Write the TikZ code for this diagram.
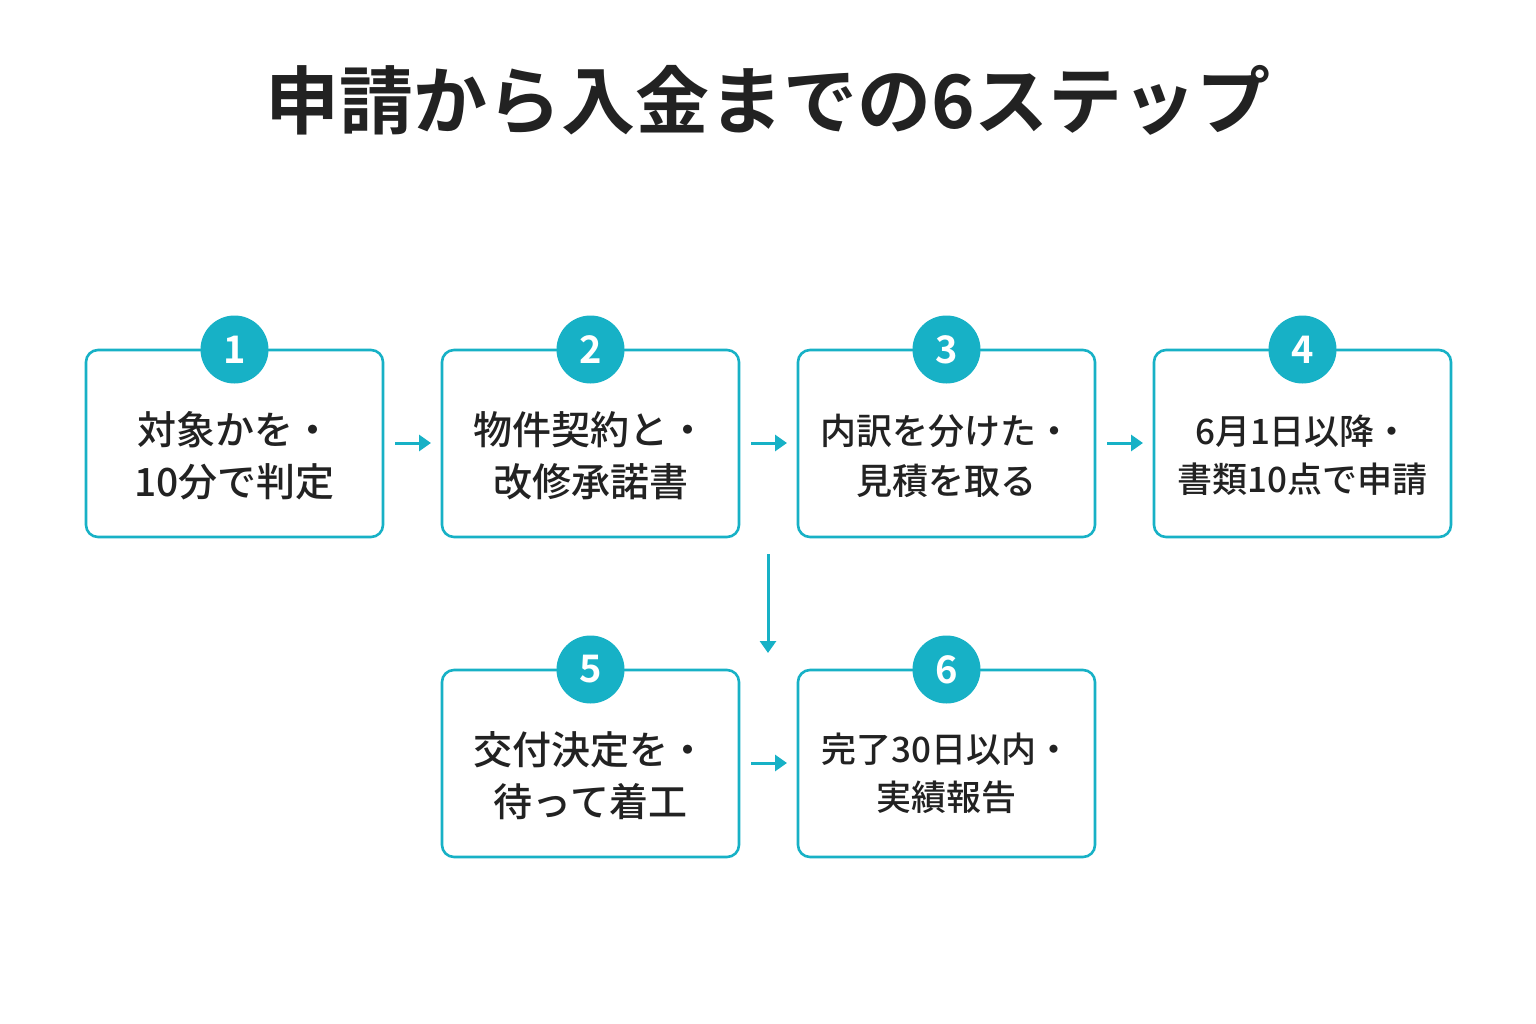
\documentclass[tikz,border=0pt]{standalone}
\usepackage{fontspec}
\newfontfamily\cjk{Noto Sans CJK JP Medium}
\newfontfamily\cjkb{Noto Sans CJK JP Bold}
\usetikzlibrary{arrows.meta}
\definecolor{teal}{HTML}{17B1C6}
\definecolor{ink}{HTML}{222222}
\begin{document}
\begin{tikzpicture}[x=1pt,y=-1pt,
  box/.style={draw=teal,line width=2.6pt,rounded corners=12pt,fill=white,minimum width=297pt,minimum height=187pt,inner sep=0pt},
  txt/.style={align=center,font=\cjk\fontsize{39}{52}\selectfont,text=ink},
  num/.style={circle,fill=teal,minimum size=68pt,inner sep=0pt,text=white,font=\cjkb\fontsize{38}{38}\selectfont},
  arr/.style={draw=teal,line width=3pt,-{Triangle[length=12pt,width=16pt]}}]
\useasboundingbox (0,0) rectangle (1536,1024);
\node[font=\cjkb\fontsize{74}{74}\selectfont,text=ink] (title) at (768,100) {申請から入金までの6ステップ};
\foreach \n/\x/\y in {1/234.5/443.5,2/590.5/443.5,3/946.5/443.5,4/1302.5/443.5,5/590.5/763.5,6/946.5/763.5}{
  \node[box] (b\n) at (\x,\y) {};
  \node[num] (c\n) at (\x,\y-94) {\n};
}
\node[txt] at ([yshift=-12pt]b1) {対象かを・\\10分で判定};
\node[txt] at ([yshift=-12pt]b2) {物件契約と・\\改修承諾書};
\node[txt,font=\cjk\fontsize{36}{50}\selectfont] at ([yshift=-12pt]b3) {内訳を分けた・\\見積を取る};
\node[txt,font=\cjk\fontsize{35}{48}\selectfont] at ([yshift=-12pt]b4) {6月1日以降・\\書類10点で申請};
\node[txt] at ([yshift=-12pt]b5) {交付決定を・\\待って着工};
\node[txt,font=\cjk\fontsize{35}{48}\selectfont] at ([yshift=-10pt]b6) {完了30日以内・\\実績報告};
\coordinate (a1s) at (395,443); \coordinate (a1e) at (431,443);
\coordinate (a2s) at (751,443); \coordinate (a2e) at (787,443);
\coordinate (a3s) at (1107,443); \coordinate (a3e) at (1143,443);
\coordinate (a4s) at (768,554); \coordinate (a4e) at (768,653);
\coordinate (a5s) at (751,763); \coordinate (a5e) at (787,763);
\draw[arr] (a1s) -- (a1e);
\draw[arr] (a2s) -- (a2e);
\draw[arr] (a3s) -- (a3e);
\draw[arr] (a4s) -- (a4e);
\draw[arr] (a5s) -- (a5e);
\end{tikzpicture}
\end{document}
